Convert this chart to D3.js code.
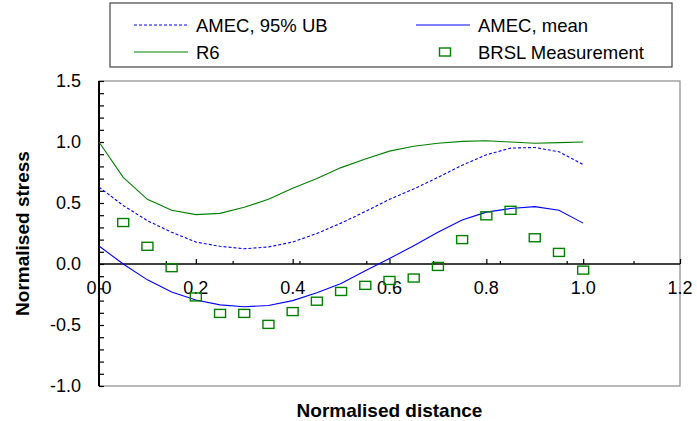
<!DOCTYPE html>
<html>
<head>
<meta charset="utf-8">
<script src="https://cdn.jsdelivr.net/npm/d3@7"></script>
<style>
  body { margin: 0; background: #fff; }
  text { font-family: "Liberation Sans", Arial, sans-serif; fill: #000; }
</style>
</head>
<body>
<svg id="chart" width="697" height="421"></svg>
<script>
// data
const xLine = [0, 0.05, 0.1, 0.15, 0.2, 0.25, 0.3, 0.35, 0.4, 0.45, 0.5,
               0.55, 0.6, 0.65, 0.7, 0.75, 0.8, 0.85, 0.9, 0.95, 1.0];
const amecUB = [0.63, 0.48, 0.355, 0.26, 0.18, 0.145, 0.125, 0.14, 0.18, 0.25, 0.335,
                0.43, 0.53, 0.615, 0.71, 0.81, 0.895, 0.95, 0.955, 0.92, 0.815];
const amecMean = [0.147, 0.0, -0.13, -0.23, -0.295, -0.335, -0.35, -0.34, -0.3, -0.235, -0.16,
                  -0.055, 0.045, 0.15, 0.26, 0.36, 0.425, 0.455, 0.47, 0.44, 0.335];
const r6 = [1.0, 0.71, 0.53, 0.44, 0.405, 0.415, 0.465, 0.53, 0.62, 0.70, 0.79,
            0.86, 0.925, 0.965, 0.99, 1.005, 1.01, 1.0, 0.99, 0.995, 1.0];
const xBrsl = [0.05, 0.1, 0.15, 0.2, 0.25, 0.3, 0.35, 0.4, 0.45, 0.5,
               0.55, 0.6, 0.65, 0.7, 0.75, 0.8, 0.85, 0.9, 0.95, 1.0];
const brsl = [0.34, 0.145, -0.03, -0.27, -0.405, -0.405, -0.495, -0.39, -0.305, -0.225,
              -0.175, -0.135, -0.115, -0.02, 0.2, 0.395, 0.44, 0.215, 0.095, -0.05];

const xTicks = [0, 0.2, 0.4, 0.6, 0.8, 1.0, 1.2];
const xMinorTicks = [0.138, 0.276, 0.414, 0.552, 0.69, 0.828, 0.966, 1.104];
const yTicks = [-1.0, -0.5, 0.0, 0.5, 1.0, 1.5];
const yMinorTicks = d3.range(-10, 16).map(d => d / 10);

const green = "#008000";
const blue = "#0000ff";

const svg = d3.select("#chart");
const plotL = 99, plotR = 680, plotT = 81, plotB = 386;

const x = d3.scaleLinear().domain([0, 1.2]).range([plotL, plotR]);
const y = d3.scaleLinear().domain([-1, 1.5]).range([plotB, plotT]);
const fmt = d => d.toFixed(1);   // plain hyphen for negatives

// plot frame (grey)
svg.append("rect")
  .attr("x", plotL).attr("y", plotT)
  .attr("width", plotR - plotL).attr("height", plotB - plotT)
  .attr("fill", "none").attr("stroke", "#8c8c8c").attr("stroke-width", 1.2);

// y axis, ticks inside
const yAxis = d3.axisRight(y).tickValues(yMinorTicks).tickSize(5).tickFormat("");
const gy = svg.append("g").attr("transform", `translate(${plotL},0)`).call(yAxis);
gy.select(".domain").remove();
gy.selectAll("line").attr("stroke", "#000").attr("stroke-width", 1.2);
svg.append("line")
  .attr("x1", plotL).attr("x2", plotL).attr("y1", plotT).attr("y2", plotB)
  .attr("stroke", "#000").attr("stroke-width", 2);

svg.append("g").selectAll("text").data(yTicks).join("text")
  .attr("x", 81).attr("y", d => y(d)).attr("dy", "0.36em")
  .attr("text-anchor", "end").attr("font-size", 18)
  .text(fmt);

// x axis at zero
const y0 = y(0);
const gxMinor = svg.append("g").attr("transform", `translate(0,${y0})`)
  .call(d3.axisTop(x).tickValues(xMinorTicks).tickSize(3).tickFormat(""));
const gxMajor = svg.append("g").attr("transform", `translate(0,${y0})`)
  .call(d3.axisTop(x).tickValues(xTicks.slice(1)).tickSize(5).tickFormat(""));
[gxMinor, gxMajor].forEach(g => {
  g.select(".domain").remove();
  g.selectAll("line").attr("stroke", "#000").attr("stroke-width", 1.2);
});
svg.append("line")
  .attr("x1", plotL).attr("x2", plotR).attr("y1", y0).attr("y2", y0)
  .attr("stroke", "#000").attr("stroke-width", 1.6);

svg.append("g").selectAll("text").data(xTicks).join("text")
  .attr("x", d => x(d)).attr("y", y0 + 30)
  .attr("text-anchor", "middle").attr("font-size", 18)
  .text(fmt);

// series
const line = vals => d3.line().x((d, i) => x(xLine[i])).y(d => y(d))(vals);

svg.append("path").attr("d", line(r6))
  .attr("fill", "none").attr("stroke", green).attr("stroke-width", 1.1);
svg.append("path").attr("d", line(amecUB))
  .attr("fill", "none").attr("stroke", blue).attr("stroke-width", 1.1)
  .attr("stroke-dasharray", "3,2");
svg.append("path").attr("d", line(amecMean))
  .attr("fill", "none").attr("stroke", blue).attr("stroke-width", 1.1);

const mw = 11, mh = 8;
svg.append("g").selectAll("rect").data(brsl).join("rect")
  .attr("x", (d, i) => x(xBrsl[i]) - mw / 2)
  .attr("y", d => y(d) - mh / 2)
  .attr("width", mw).attr("height", mh)
  .attr("fill", "none").attr("stroke", green).attr("stroke-width", 1.4);

// axis titles
svg.append("text")
  .attr("x", (plotL + plotR) / 2).attr("y", 417)
  .attr("text-anchor", "middle").attr("font-size", 19).attr("font-weight", "bold")
  .text("Normalised distance");
svg.append("text")
  .attr("transform", `translate(29,${(plotT + plotB) / 2}) rotate(-90)`)
  .attr("text-anchor", "middle").attr("font-size", 19).attr("font-weight", "bold")
  .text("Normalised stress");

// legend
const legend = svg.append("g");
legend.append("rect")
  .attr("x", 110).attr("y", 3).attr("width", 562).attr("height", 64)
  .attr("fill", "#fff").attr("stroke", "#444").attr("stroke-width", 1.2);

const items = [
  { name: "AMEC, 95% UB", type: "dash", col: blue, lx: 134, row: 0 },
  { name: "AMEC, mean", type: "line", col: blue, lx: 416, row: 0 },
  { name: "R6", type: "line", col: green, lx: 134, row: 1 },
  { name: "BRSL Measurement", type: "mark", col: green, lx: 416, row: 1 }
];
const rowY = [25, 52];
items.forEach(it => {
  const ly = rowY[it.row];
  if (it.type === "mark") {
    legend.append("rect")
      .attr("x", it.lx + 29 - mw / 2).attr("y", ly - mh / 2)
      .attr("width", mw).attr("height", mh)
      .attr("fill", "none").attr("stroke", it.col).attr("stroke-width", 1.4);
  } else {
    legend.append("line")
      .attr("x1", it.lx).attr("x2", it.lx + 54).attr("y1", ly).attr("y2", ly)
      .attr("stroke", it.col).attr("stroke-width", 1.1)
      .attr("stroke-dasharray", it.type === "dash" ? "3,2" : null);
  }
  legend.append("text")
    .attr("x", it.lx + 62).attr("y", ly).attr("dy", "0.36em")
    .attr("font-size", 18.5)
    .text(it.name);
});
</script>
</body>
</html>
